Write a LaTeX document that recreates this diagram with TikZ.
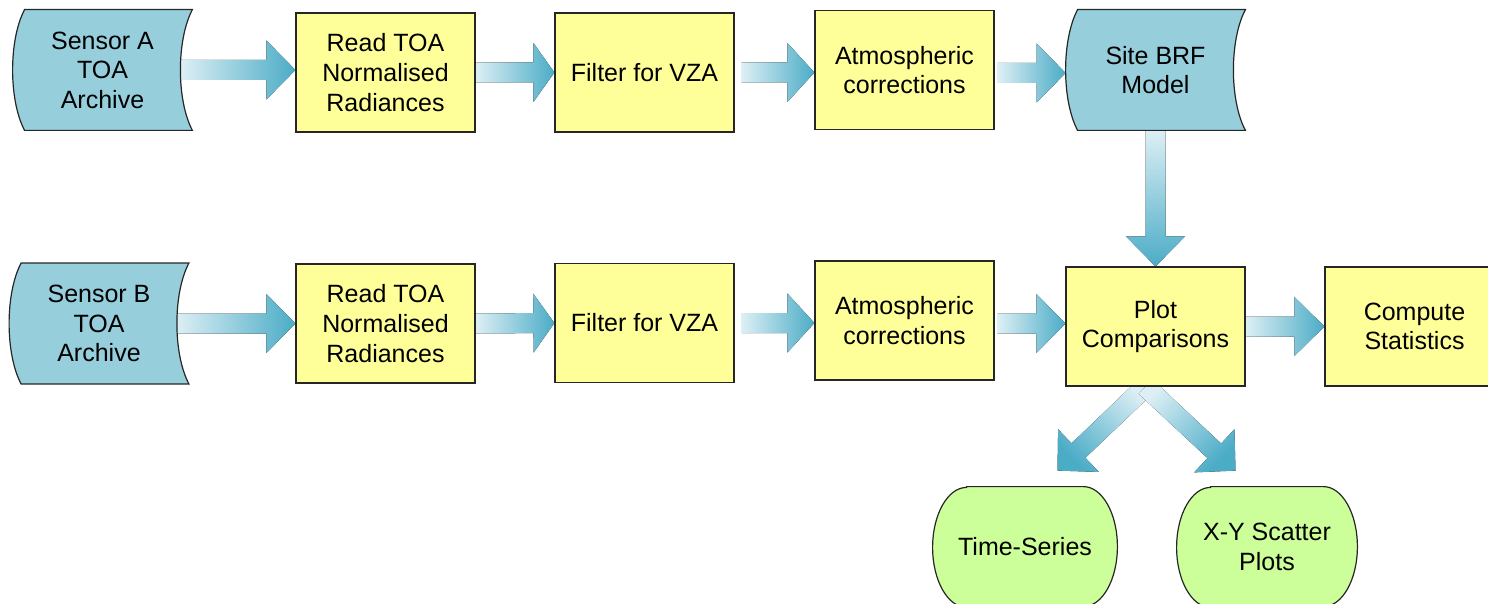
\documentclass[tikz,border=0pt]{standalone}
\usepackage{fontspec}
\setmainfont{Liberation Sans}
\usetikzlibrary{calc}
\definecolor{boxyellow}{HTML}{FFFF99}
\definecolor{storeblue}{HTML}{96CEDC}
\definecolor{termgreen}{HTML}{CCFF99}
\definecolor{arrdark}{HTML}{4BACC6}
\definecolor{arrlight}{HTML}{DDEFF5}
\pgfdeclarelayer{arrlayer}
\pgfdeclarelayer{shapelayer}
\pgfsetlayers{arrlayer,shapelayer,main}
\tikzset{
  txt/.style={font=\fontsize{12.5pt}{14.8pt}\selectfont, align=center, inner sep=0pt},
  procbox/.style={txt, draw=black!85, line width=0.6pt, fill=boxyellow, minimum width=89.5pt, minimum height=59.5pt},
  storebox/.style={txt, minimum width=89.5pt, minimum height=60pt},
  termbox/.style={txt, minimum width=90pt, minimum height=60pt},
  storefill/.style={draw=black!85, line width=0.6pt, fill=storeblue},
  termfill/.style={draw=black!85, line width=0.6pt, fill=termgreen},
  arrshade/.style={top color=arrlight, bottom color=arrdark, shading angle=#1},
}
\newcommand{\storedshape}[1]{%
  \begin{pgfonlayer}{shapelayer}
  \draw[storefill] ($(#1.north west)+(6pt,0)$) -- (#1.north east)
    .. controls ($(#1.north east)+(-8pt,-15pt)$) and ($(#1.south east)+(-8pt,15pt)$) .. (#1.south east)
    -- ($(#1.south west)+(6pt,0)$)
    .. controls ($(#1.south west)+(-2pt,15pt)$) and ($(#1.north west)+(-2pt,-15pt)$) .. ($(#1.north west)+(6pt,0)$) -- cycle;
  \end{pgfonlayer}}
\newcommand{\termshape}[1]{%
  \begin{pgfonlayer}{shapelayer}
  \draw[termfill] ($(#1.north west)+(17pt,0)$) -- ($(#1.north east)+(-17pt,0)$)
    arc[start angle=90,end angle=-90,x radius=17pt,y radius=30pt]
    -- ($(#1.south west)+(17pt,0)$)
    arc[start angle=270,end angle=90,x radius=17pt,y radius=30pt] -- cycle;
  \end{pgfonlayer}}
\newcommand{\blockarrow}[4]{%
  \begin{pgfonlayer}{arrlayer}
  \coordinate (hb) at ($(#2)!#4!(#1)$);
  \fill[arrshade=#3] ($(#1)!5pt!90:(#2)$) -- ($(hb)!5pt!90:(#2)$) -- ($(hb)!14.75pt!90:(#2)$)
    -- (#2) -- ($(hb)!14.75pt!-90:(#2)$) -- ($(hb)!5pt!-90:(#2)$) -- ($(#1)!5pt!-90:(#2)$) -- cycle;
  \end{pgfonlayer}}
\begin{document}
\begin{tikzpicture}[x=0.5pt,y=-0.5pt]
\useasboundingbox (0,0) rectangle (1488,604);
% row 1
\node[storebox] (sa) at (102.5,70) {Sensor A\\TOA\\Archive};
\node[procbox] (rt1) at (385.5,72.5) {Read TOA\\Normalised\\Radiances};
\node[procbox] (f1) at (644.5,72.5) {Filter for VZA};
\node[procbox] (at1) at (904.5,70) {Atmospheric\\corrections};
\node[storebox] (brf) at (1155.5,70) {Site BRF\\Model};
% row 2
\node[storebox] (sb) at (99,323.5) {Sensor B\\TOA\\Archive};
\node[procbox] (rt2) at (385.5,323.5) {Read TOA\\Normalised\\Radiances};
\node[procbox] (f2) at (644.5,323) {Filter for VZA};
\node[procbox] (at2) at (904.5,320.5) {Atmospheric\\corrections};
\node[procbox] (pc) at (1155.5,326.5) {Plot\\Comparisons};
\node[procbox] (cs) at (1414.5,326.5) {Compute\\Statistics};
% outputs
\node[termbox, minimum width=92pt] (ts) at (1025,547) {Time-Series};
\node[termbox] (xy) at (1267,547) {X-Y Scatter\\Plots};
\storedshape{sa}
\storedshape{sb}
\storedshape{brf}
\termshape{ts}
\termshape{xy}
% connector end points
\coordinate (a1s) at ($(sa.east)+(-6pt,0)$);
\coordinate (a1e) at (rt1.west |- sa.east);
\coordinate (a3s) at ($(f1.east)+(3.5pt,0)$);
\coordinate (a3e) at (at1.west |- f1.east);
\coordinate (a4s) at ($(at1.east)+(1.5pt,-1.5pt)$);
\coordinate (a4e) at (brf.west |- a4s);
\coordinate (b1s) at ($(sb.east)+(-6.5pt,0)$);
\coordinate (b1e) at (rt2.west |- sb.east);
\coordinate (b3s) at ($(f2.east)+(3.5pt,0)$);
\coordinate (b3e) at (at2.west |- f2.east);
\coordinate (b4s) at ($(at2.east)+(1.5pt,-1.5pt)$);
\coordinate (b4e) at (pc.west |- b4s);
\coordinate (ds) at ($(pc.south)+(-5pt,0)$);
\coordinate (dl) at ($(pc.south)+(-49pt,-42pt)$);
\coordinate (dr) at ($(pc.south)+(40pt,-42pt)$);
% connectors
\blockarrow{a1s}{a1e}{90}{14.5pt}
\blockarrow{rt1.east}{f1.west}{90}{10.5pt}
\blockarrow{a3s}{a3e}{90}{13.5pt}
\blockarrow{a4s}{a4e}{90}{14.5pt}
\blockarrow{b1s}{b1e}{90}{14.5pt}
\blockarrow{rt2.east}{f2.west}{90}{10.5pt}
\blockarrow{b3s}{b3e}{90}{13.5pt}
\blockarrow{b4s}{b4e}{90}{14.5pt}
\blockarrow{pc.east}{cs.west}{90}{15pt}
\blockarrow{brf.south}{pc.north}{0}{15pt}
\blockarrow{ds}{dl}{-45}{14.5pt}
\blockarrow{ds}{dr}{45}{14.5pt}
\end{tikzpicture}
\end{document}
